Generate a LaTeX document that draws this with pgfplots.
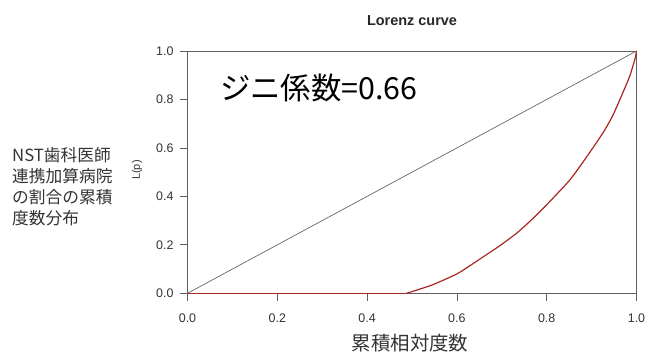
\documentclass[border=0pt]{standalone}
\usepackage{fontspec}
\setmainfont{Liberation Sans}
\newfontfamily\jp{Noto Sans CJK JP}
\usepackage{pgfplots}
\pgfplotsset{compat=1.18}
\definecolor{lorenz}{RGB}{170,38,34}
\definecolor{framec}{RGB}{95,95,95}
\begin{document}
\begin{tikzpicture}
\path[use as bounding box] (-187.5bp,-58.7bp) rectangle (459.5bp,293.3bp);
\begin{axis}[
  at={(0,0)}, anchor=south west,
  scale only axis, width=449bp, height=242.3bp,
  xmin=0, xmax=1, ymin=0, ymax=1,
  clip=false,
  xtick={0,0.2,0.4,0.6,0.8,1},
  ytick={0,0.2,0.4,0.6,0.8,1},
  tick align=outside, major tick length=7.5bp,
  xtick pos=bottom, ytick pos=left,
  axis line style={framec, line width=0.8pt},
  every tick/.style={framec, line width=0.8pt},
  ticklabel style={font=\fontsize{12.5}{14}\selectfont, text=black!80},
  xticklabel style={yshift=-9bp},
  yticklabel style={xshift=-3bp},
  /pgf/number format/fixed,
  /pgf/number format/fixed zerofill,
  /pgf/number format/precision=1,
  /pgf/number format/assume math mode=true,
]
\addplot[gray!80!black, line width=0.7pt] coordinates {(0,0) (1,1)};
\addplot[lorenz, line width=1.2pt] coordinates {(0,0) (0.488,0)};
\addplot[lorenz, line width=1.2pt, smooth, tension=0.4] coordinates {
(0.488,0) (0.51,0.013) (0.547,0.036) (0.6,0.080) (0.629,0.114) (0.659,0.151)
(0.696,0.197) (0.733,0.248) (0.770,0.31) (0.807,0.379) (0.852,0.469)
(0.889,0.563) (0.926,0.664) (0.948,0.737) (0.971,0.834)
(0.986,0.902) (0.997,0.971) (1,1)
};
\end{axis}
\node[font=\bfseries\fontsize{14.5}{16}\selectfont, text=black!85] at (224.5bp,272.3bp) {Lorenz curve};
\node[anchor=west, inner sep=0pt, font=\jp\fontsize{30.5}{33}\selectfont] at (32.5bp,205.3bp) {ジニ係数=0.66};
\node[rotate=90, font=\fontsize{11}{12}\selectfont, text=black!80] at (-50.5bp,123.3bp) {L(p)};
\node[anchor=west, inner sep=0pt, align=left, font=\jp\fontsize{16.8}{21}\selectfont, text=black!80] at (-175.5bp,106.8bp) {NST歯科医師\\連携加算病院\\の割合の累積\\度数分布};
\node[font=\jp\fontsize{19.5}{22}\selectfont, text=black!80] at (222.5bp,-49.7bp) {累積相対度数};
\end{tikzpicture}
\end{document}
